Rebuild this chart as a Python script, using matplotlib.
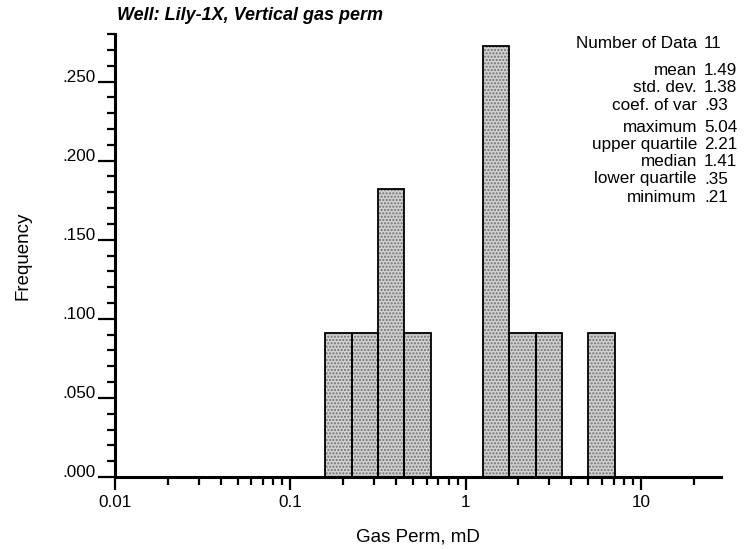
import matplotlib.pyplot as plt
import numpy as np

plt.rcParams['font.family'] = ['Liberation Sans', 'DejaVu Sans']

# log10 bin edges (width 0.15) for the non-empty part of the histogram
bin_lo_log = [-0.80, -0.65, -0.50, -0.35, -0.20, -0.05, 0.10, 0.25, 0.40, 0.55, 0.70]
bin_width_log = 0.15
counts = [1, 1, 2, 1, 0, 0, 3, 1, 1, 0, 1]
n_data = 11

stat_names = ['Number of Data', 'mean', 'std. dev.', 'coef. of var',
              'maximum', 'upper quartile', 'median', 'lower quartile', 'minimum']
stat_values = ['11', '1.49', '1.38', '.93', '5.04', '2.21', '1.41', '.35', '.21']

left = 10 ** np.array(bin_lo_log)
right = 10 ** (np.array(bin_lo_log) + bin_width_log)
freq = np.array(counts) / n_data

fig = plt.figure(figsize=(7.49, 5.49), dpi=100)
ax = fig.add_axes([0.1535, 0.131, 0.809, 0.807])
ax.set_xscale('log')

keep = freq > 0
ax.bar(left[keep], freq[keep], width=(right - left)[keep], align='edge',
       color='#d0d0d0', edgecolor='#707070', hatch='.....', linewidth=0)
ax.bar(left[keep], freq[keep], width=(right - left)[keep], align='edge',
       fill=False, edgecolor='black', linewidth=1.3)

ax.set_xlim(0.01, 28.6)
ax.set_ylim(0, 0.279)

for s in ['top', 'right']:
    ax.spines[s].set_visible(False)
for s in ['left', 'bottom']:
    ax.spines[s].set_linewidth(2.2)

ax.set_xticks([0.01, 0.1, 1, 10])
ax.set_xticklabels(['0.01', '0.1', '1', '10'])
ax.set_yticks([0, 0.05, 0.1, 0.15, 0.2, 0.25])
ax.set_yticklabels(['.000', '.050', '.100', '.150', '.200', '.250'])
ax.set_yticks(np.arange(0, 0.28, 0.01), minor=True)
ax.tick_params(axis='both', which='major', labelsize=12.3, width=1.6, color='black')
ax.tick_params(axis='y', which='major', length=12, pad=2)
ax.tick_params(axis='x', which='major', length=9, pad=4)
ax.tick_params(axis='both', which='minor', length=6, width=1.6)
# y labels sit on top of their (long) tick, like an underline
for lab in ax.get_yticklabels():
    lab.set_verticalalignment('baseline')

ax.set_xlabel('Gas Perm, mD', fontsize=13.5, labelpad=13)
ax.set_ylabel('Frequency', fontsize=13.5, labelpad=22)

fig.text(117 / 749, 1 - 16 / 549, 'Well: Lily-1X, Vertical gas perm',
         fontsize=13, fontweight='bold', fontstyle='italic', va='center', ha='left')

ys = [43, 70, 88, 105, 127, 144, 162, 179, 197]
for name, val, y in zip(stat_names, stat_values, ys):
    fig.text(697 / 749, 1 - y / 549, name, fontsize=12.3, ha='right', va='center')
    fig.text(704 / 749, 1 - y / 549, val, fontsize=12.3, ha='left', va='center')

fig.savefig('out.png', dpi=100)
